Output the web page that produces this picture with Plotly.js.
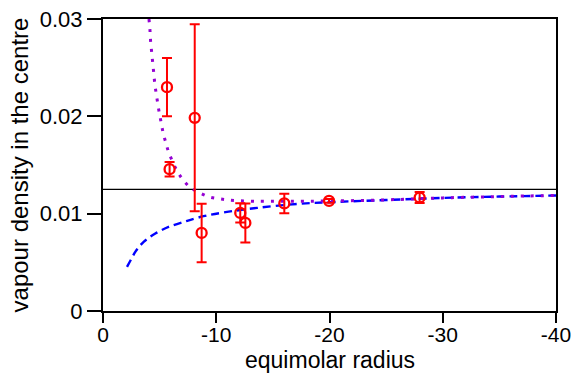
<!DOCTYPE html>
<html>
<head>
<meta charset="utf-8">
<script src="https://cdn.plot.ly/plotly-3.0.1.min.js"></script>
<style>html,body{margin:0;padding:0;background:#fff;}#chart{width:575px;height:373px;}</style>
</head>
<body>
<div id="chart"></div>
<script>
// measured points (equimolar radius, vapour density) with error bars
const dataX = [-5.65, -5.88, -8.10, -8.71, -12.12, -12.57, -16.01, -19.96, -27.96];
const dataY = [0.0230, 0.01457, 0.01985, 0.00802, 0.01008, 0.00905, 0.01105, 0.01131, 0.01166];
const dataErr = [0.0030, 0.00075, 0.0096, 0.0030, 0.0010, 0.0020, 0.0010, 0.0002, 0.00056];

// blue dashed curve
const blueX = [-2.12, -2.5, -2.85, -3.2, -3.59, -4.1, -4.62, -5.2, -5.79, -7.12, -8.88, -10.95, -13.6, -17.13, -20.66, -25, -30, -35, -40];
const blueY = [0.00453, 0.00535, 0.00607, 0.00662, 0.0071, 0.00757, 0.00796, 0.00832, 0.00864, 0.00915, 0.00974, 0.01018, 0.01059, 0.01100, 0.01121, 0.01140, 0.01162, 0.01176, 0.01187];

// purple dotted curve
const purpleX = [-4.06, -4.15, -4.20, -4.29, -4.38, -4.47, -4.56, -4.68, -4.82, -4.97, -5.15, -5.32, -5.56, -5.83, -6.59, -7.12, -7.71, -8.53, -9.39, -10.3, -11.18, -13.3, -16.25, -20.0, -25, -30, -35, -40];
const purpleY = [0.0300, 0.0288, 0.02774, 0.02668, 0.02561, 0.02458, 0.02352, 0.02246, 0.02143, 0.02036, 0.01927, 0.01825, 0.01725, 0.01622, 0.0143, 0.01341, 0.01269, 0.01214, 0.01172, 0.01152, 0.01139, 0.01128, 0.01128, 0.01130, 0.01142, 0.01162, 0.01176, 0.01187];

// horizontal reference line
const hlineX = [0, -40];
const hlineY = [0.0125, 0.0125];

// ticks
const xTickVals = [0, -10, -20, -30, -40];
const xTickText = ['0', '-10', '-20', '-30', '-40'];
const yTickVals = [0, 0.01, 0.02, 0.03];
const yTickText = ['0', '0.01', '0.02', '0.03'];
const xTitle = 'equimolar radius';
const yTitle = 'vapour density in the centre';

const traces = [
  {x: hlineX, y: hlineY, mode: 'lines', line: {color: '#000', width: 1.3}, hoverinfo: 'skip'},
  {x: blueX, y: blueY, mode: 'lines', line: {color: '#0000ff', width: 2.4, dash: '8px,5px', shape: 'spline'}},
  {x: purpleX, y: purpleY, mode: 'lines', line: {color: '#9400d3', width: 3, dash: '3px,7px', shape: 'spline'}},
  {x: dataX, y: dataY, mode: 'markers',
   marker: {symbol: 'circle-open', size: 10, color: '#ff0000', line: {width: 2.3, color: '#ff0000'}},
   error_y: {type: 'data', array: dataErr, visible: true, color: '#ff0000', thickness: 2, width: 5}}
];

const font = {family: '"Liberation Sans", Arial, sans-serif', color: '#000'};
const layout = {
  width: 575, height: 373,
  margin: {l: 103, r: 19, t: 19, b: 62},
  showlegend: false,
  paper_bgcolor: '#fff', plot_bgcolor: '#fff',
  font: Object.assign({size: 22}, font),
  xaxis: {
    range: [0, -40], tickvals: xTickVals, ticktext: xTickText,
    ticks: 'outside', ticklen: 10, tickwidth: 2, tickcolor: '#000',
    showline: true, linewidth: 2, linecolor: '#000', mirror: true,
    showgrid: false, zeroline: false, ticklabelstandoff: -6,
    tickfont: Object.assign({size: 21}, font)
  },
  yaxis: {
    range: [0, 0.03], tickvals: yTickVals, ticktext: yTickText,
    ticks: 'outside', ticklen: 14, tickwidth: 2, tickcolor: '#000',
    showline: true, linewidth: 2, linecolor: '#000', mirror: true,
    showgrid: false, zeroline: false,
    tickfont: Object.assign({size: 22}, font),
    title: {text: yTitle, font: Object.assign({size: 24}, font), standoff: 4}
  },
  annotations: [{
    text: xTitle, xref: 'paper', yref: 'paper', x: 0.5, y: 0,
    xanchor: 'center', yanchor: 'top', yshift: -34, showarrow: false,
    font: Object.assign({size: 23}, font)
  }]
};

Plotly.newPlot('chart', traces, layout, {staticPlot: true, displayModeBar: false});
</script>
</body>
</html>
